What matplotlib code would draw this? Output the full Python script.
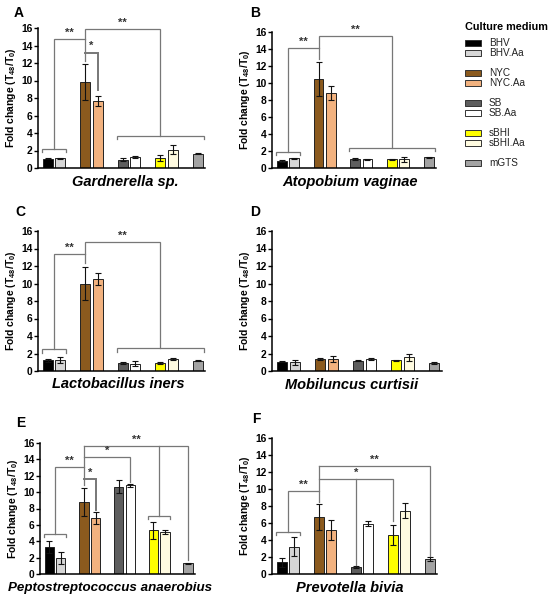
import matplotlib
matplotlib.use("Agg")
import matplotlib.pyplot as plt
from matplotlib.patches import Rectangle

plt.rcParams['font.family'] = ['Liberation Sans', 'DejaVu Sans']
plt.rcParams['mathtext.fontset'] = 'custom'
plt.rcParams['mathtext.rm'] = 'Liberation Sans:bold'
plt.rcParams['mathtext.it'] = 'Liberation Sans:bold:italic'
plt.rcParams['mathtext.bf'] = 'Liberation Sans:bold'
plt.rcParams['mathtext.default'] = 'rm'

# ---------------- data ----------------
media = ['BHV', 'BHV.Aa', 'NYC', 'NYC.Aa', 'SB', 'SB.Aa', 'sBHI', 'sBHI.Aa', 'mGTS']
colors = ['#000000', '#d6d6d6', '#8b5a1e', '#f2b27f', '#5e5e5e', '#ffffff',
          '#ffff00', '#fffbe0', '#a3a3a3']

species = ['Gardnerella sp.', 'Atopobium vaginae', 'Lactobacillus iners',
           'Mobiluncus curtisii', 'Peptostreptococcus anaerobius', 'Prevotella bivia']
panel_letters = ['A', 'B', 'C', 'D', 'E', 'F']

gard_mean = [1.05, 1.10, 9.85, 7.65, 0.97, 1.25, 1.10, 2.10, 1.62]
gard_err = [0.05, 0.10, 2.05, 0.55, 0.15, 0.12, 0.35, 0.55, 0.05]
atop_mean = [0.86, 1.13, 10.47, 8.80, 1.05, 1.05, 1.05, 1.05, 1.25]
atop_err = [0.10, 0.05, 2.05, 0.80, 0.10, 0.05, 0.05, 0.30, 0.05]
lact_mean = [1.22, 1.30, 9.98, 10.50, 0.90, 0.84, 0.90, 1.35, 1.18]
lact_err = [0.20, 0.35, 1.90, 0.70, 0.10, 0.25, 0.10, 0.12, 0.03]
mobi_mean = [1.06, 0.99, 1.37, 1.37, 1.18, 1.37, 1.22, 1.60, 0.91]
mobi_err = [0.05, 0.25, 0.08, 0.30, 0.05, 0.15, 0.03, 0.40, 0.12]
pept_mean = [3.34, 1.95, 8.80, 6.84, 10.67, 10.83, 5.33, 5.13, 1.30]
pept_err = [0.73, 0.75, 1.70, 0.73, 0.80, 0.20, 1.05, 0.20, 0.10]
prev_mean = [1.37, 3.22, 6.70, 5.20, 0.82, 5.92, 4.59, 7.45, 1.73]
prev_err = [0.50, 1.10, 1.55, 1.15, 0.10, 0.30, 1.20, 0.86, 0.25]

yticks = [0, 2, 4, 6, 8, 10, 12, 14, 16]

means = [gard_mean, atop_mean, lact_mean, mobi_mean, pept_mean, prev_mean]
errs = [gard_err, atop_err, lact_err, mobi_err, pept_err, prev_err]

# ---------------- layout ----------------
W, H = 553, 600
fig = plt.figure(figsize=(W / 100, H / 100), dpi=100)

# (left, right, top, bottom) in pixels
boxes = [(38, 205, 28, 168), (272, 436, 32, 168),
         (38, 205, 231, 371), (272, 442, 231, 371),
         (40, 195, 443, 574), (272, 437, 438, 574)]
letter_pos = [(14, 13), (250, 13), (15, 212), (250, 212), (16, 423), (252, 419)]
title_pos = [(125, 182), (350, 182), (118, 384), (352, 385), (110, 588), (350, 588)]
title_size = [10.5, 10.5, 10.5, 10.5, 9.6, 10.5]

xpos = [0, 1, 3, 4, 6, 7, 9, 10, 12]
LC = '#777777'


def px_axes(l, r, t, b):
    return fig.add_axes([l / W, 1 - b / H, (r - l) / W, (b - t) / H])


def path(ax, pts, lw=0.9, color=LC):
    xs = [p[0] for p in pts]
    ys = [p[1] for p in pts]
    ax.plot(xs, ys, color=color, lw=lw, clip_on=False, solid_joinstyle='miter',
            zorder=5)


def star(ax, x, y, s):
    ax.text(x, y + 0.15, s, ha='center', va='bottom', fontsize=8,
            fontweight='bold', color='#333333', zorder=6)


def group(ax, i0, i1, y, leg=0.4):
    x0 = xpos[i0] - 0.48
    x1 = xpos[i1] + 0.48
    path(ax, [(x0, y - leg), (x0, y), (x1, y), (x1, y - leg)])
    return (xpos[i0] + xpos[i1]) / 2


axes = []
for k in range(6):
    ax = px_axes(*boxes[k])
    axes.append(ax)
    ax.bar(xpos, means[k], width=0.8, color=colors, edgecolor='#222222',
           linewidth=0.7, zorder=2)
    ax.errorbar(xpos, means[k], yerr=errs[k], fmt='none', ecolor='#111111',
                elinewidth=0.8, capsize=2.2, capthick=0.8, zorder=3)
    ax.set_xlim(-0.8, 12.6)
    ax.set_ylim(0, 16)
    ax.set_yticks(yticks)
    ax.set_yticklabels([str(t) for t in yticks], fontsize=7.4, fontweight='bold')
    ax.set_xticks([])
    for s in ['top', 'right']:
        ax.spines[s].set_visible(False)
    for s in ['left', 'bottom']:
        ax.spines[s].set_linewidth(1.1)
    ax.tick_params(axis='y', length=3, width=1.0, pad=1)
    ax.set_ylabel('Fold change (T$_{48}$/T$_{0}$)', fontsize=7.5,
                  fontweight='bold', labelpad=2)
    lx, ly = letter_pos[k]
    fig.text(lx / W, 1 - ly / H, panel_letters[k], fontsize=10, fontweight='bold',
             va='center', ha='left')
    tx, ty = title_pos[k]
    fig.text(tx / W, 1 - ty / H, species[k], fontsize=title_size[k],
             fontweight='bold', style='italic', ha='center', va='center')

# ---------------- significance brackets ----------------
# A
ax = axes[0]
c1 = group(ax, 0, 1, 2.2)
c2 = group(ax, 4, 8, 3.7)
path(ax, [(c1, 2.2), (c1, 14.7), (3, 14.7)])
star(ax, (c1 + 3) / 2, 14.7, '**')
path(ax, [(c2, 3.7), (c2, 15.9), (3, 15.9), (3, 12.2)])
star(ax, (c2 + 3) / 2, 15.9, '**')
path(ax, [(3, 13.2), (4, 13.2), (4, 8.9)], lw=1.4)
star(ax, 3.5, 13.2, '*')

# B
ax = axes[1]
c1 = group(ax, 0, 1, 1.9)
c2 = group(ax, 4, 8, 2.4)
path(ax, [(c1, 1.9), (c1, 14.1), (3, 14.1)])
star(ax, (c1 + 3) / 2, 14.1, '**')
path(ax, [(c2, 2.4), (c2, 15.5), (3, 15.5), (3, 12.8)])
star(ax, (c2 + 3) / 2, 15.5, '**')

# C
ax = axes[2]
c1 = group(ax, 0, 1, 2.48)
c2 = group(ax, 4, 8, 2.6)
path(ax, [(c1, 2.48), (c1, 13.4), (3, 13.4)])
star(ax, (c1 + 3) / 2, 13.4, '**')
path(ax, [(c2, 2.6), (c2, 14.74), (3, 14.74), (3, 12.3)])
star(ax, (c2 + 3) / 2, 14.74, '**')

# E
ax = axes[4]
c1 = group(ax, 0, 1, 4.89)
c3 = group(ax, 6, 7, 7.1)
path(ax, [(c1, 4.89), (c1, 13.07), (3, 13.07)])
star(ax, (c1 + 3) / 2, 13.07, '**')
path(ax, [(3, 15.6), (3, 10.9)])
path(ax, [(3, 15.6), (12, 15.6), (12, 1.75)])
path(ax, [(c3, 7.1), (c3, 15.6)])
star(ax, 7.5, 15.6, '**')
path(ax, [(3, 14.25), (7, 14.25), (7, 11.2)])
star(ax, 5, 14.25, '*')
path(ax, [(3, 11.64), (4, 11.64), (4, 7.86)], lw=1.4)
star(ax, 3.5, 11.64, '*')

# F
ax = axes[5]
c1 = group(ax, 0, 1, 4.9, leg=0.35)
path(ax, [(c1, 4.9), (c1, 9.73), (3, 9.73)])
star(ax, (c1 + 3) / 2, 9.73, '**')
path(ax, [(3, 12.67), (3, 8.5)])
path(ax, [(3, 11.18), (9, 11.18), (9, 6.2)])
path(ax, [(6, 11.18), (6, 1.1)])
star(ax, 6, 11.18, '*')
path(ax, [(3, 12.67), (12, 12.67), (12, 2.08)])
star(ax, 7.5, 12.67, '**')

# ---------------- legend ----------------
lg = fig.add_axes([455 / W, 1 - 185 / H, 98 / W, 170 / H])
lg.set_xlim(455, 553)
lg.set_ylim(185, 15)
lg.axis('off')
lg.text(465, 27, 'Culture medium', fontsize=7.8, fontweight='bold',
        ha='left', va='center')
for i, (m, c) in enumerate(zip(media, colors)):
    yc = 43 + 30 * (i // 2) + 10 * (i % 2)
    lg.add_patch(Rectangle((465, yc - 3), 16, 6, facecolor=c,
                           edgecolor='#333333', linewidth=0.7))
    lg.text(489, yc, m, fontsize=7.2, ha='left', va='center', color='#222222')

fig.savefig('out.png', dpi=100)
